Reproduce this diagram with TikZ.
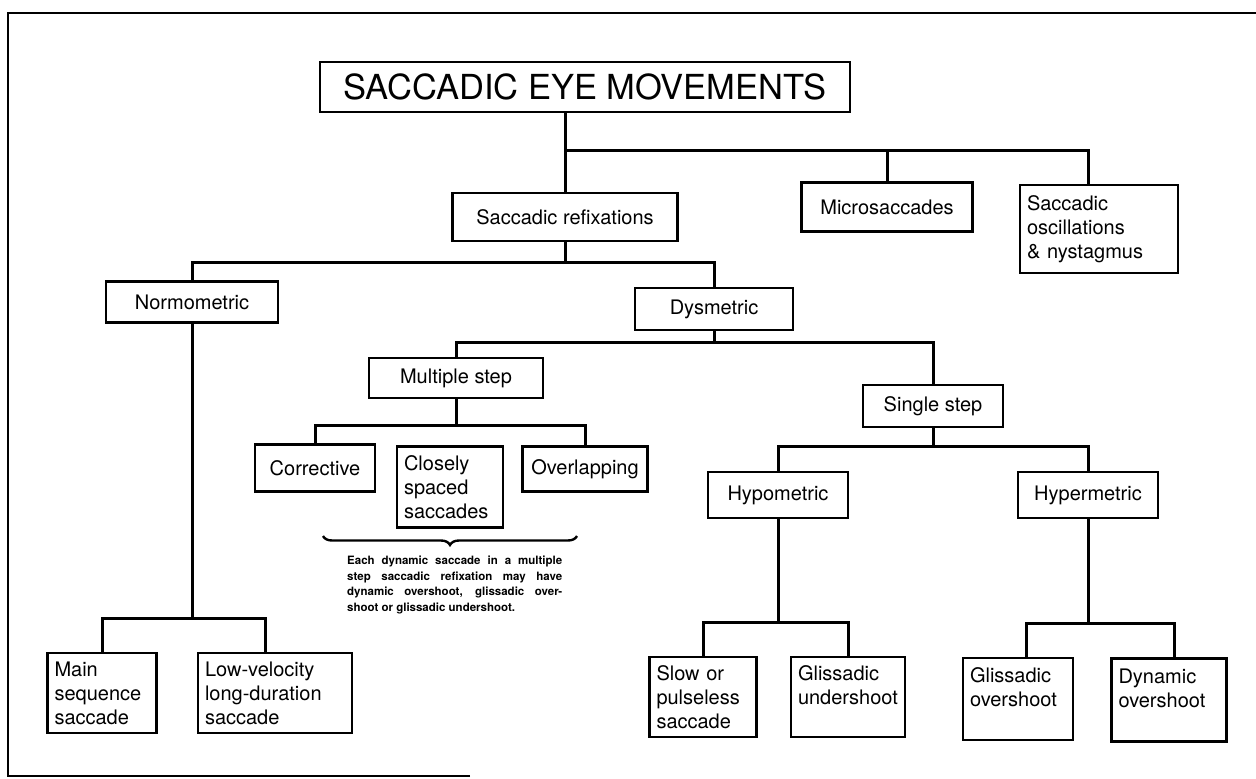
\documentclass[tikz,border=0pt]{standalone}
\usepackage{fontspec}
\setmainfont{TeX Gyre Heros}
\usetikzlibrary{decorations.pathreplacing}
\begin{document}
\begin{tikzpicture}[x=1pt,y=-1pt,
  conn/.style={line width=3pt},
  box/.style={draw, line width=2.6pt, inner sep=0pt, font=\fontsize{20}{24}\selectfont, align=center},
  lbox/.style={draw, line width=2.6pt, inner xsep=7pt, inner ysep=0pt, font=\fontsize{20}{24}\selectfont, align=left},
  frame/.style={line width=2.4pt}]
\useasboundingbox (0,0) rectangle (1256,779);
\fill[white] (0,0) rectangle (1256,779);
% frame
\draw[frame] (470,776) -- (8,776) -- (8,13) -- (1256,13);
% bar levels
\coordinate (b1) at (0,150);
\coordinate (b2) at (0,262);
\coordinate (b3) at (0,342);
\coordinate (b4) at (0,425);
\coordinate (b5) at (0,618);
\coordinate (b6) at (0,446);
\coordinate (b7) at (0,622);
\coordinate (b8) at (0,623);
% nodes
\node[box, minimum width=530, minimum height=50, font=\fontsize{34.5}{38}\selectfont] (title) at (585,87) {SACCADIC EYE MOVEMENTS};
\node[box, minimum width=225, minimum height=48] (sr) at (565,217) {Saccadic refixations};
\node[box, minimum width=171, minimum height=49] (micro) at (887,207) {Microsaccades};
\node[lbox, text width=144, minimum height=88] (osc) at (1099,229) {Saccadic\\oscillations\\\& nystagmus};
\node[box, minimum width=172, minimum height=41] (normo) at (192,302) {Normometric};
\node[box, minimum width=158, minimum height=42] (dys) at (714,309) {Dysmetric};
\node[box, minimum width=174, minimum height=40] (ms) at (456,378) {Multiple step};
\node[box, minimum width=140, minimum height=42] (ss) at (933,406) {Single step};
\node[box, minimum width=120, minimum height=47] (corr) at (315,468) {Corrective};
\node[lbox, text width=92, minimum height=81] (close) at (450,487) {Closely\\spaced\\saccades};
\node[box, minimum width=125, minimum height=45] (over) at (585,469) {Overlapping};
\node[box, minimum width=140, minimum height=46] (hypo) at (778,495) {Hypometric};
\node[box, minimum width=140, minimum height=46] (hyper) at (1088,495) {Hypermetric};
\node[lbox, text width=95, minimum height=80] (main) at (102,693) {Main\\sequence\\saccade};
\node[lbox, text width=140, minimum height=80] (lowv) at (275,693) {Low-velocity\\long-duration\\saccade};
\node[lbox, text width=93, minimum height=80] (slow) at (703,697) {Slow or\\pulseless\\saccade};
\node[lbox, text width=100, minimum height=80] (gund) at (848,697) {Glissadic\\undershoot\\\mbox{}};
\node[lbox, text width=96, minimum height=82] (gover) at (1018,699) {Glissadic\\overshoot\\\mbox{}};
\node[lbox, text width=101, minimum height=83] (dyn) at (1169,700) {Dynamic\\overshoot\\\mbox{}};
\node[anchor=north west, inner sep=0pt, font=\fontsize{11.5}{15.5}\selectfont\bfseries, align=left] (note) at (347,556)
  {\makebox[215pt][s]{Each dynamic saccade in a multiple}\\
   \makebox[215pt][s]{step saccadic refixation may have}\\
   \makebox[215pt][s]{dynamic overshoot, glissadic over-}\\
   shoot or glissadic undershoot.};
% drop points off centre
\coordinate (oscin) at ([xshift=-11pt]osc.north);
\coordinate (lowvin) at ([xshift=-10pt]lowv.north);
\coordinate (goverin) at ([xshift=8pt]gover.north);
\coordinate (dynin) at ([xshift=5pt]dyn.north);
% connectors
\draw[conn] (title.south -| sr.north) -- (sr.north);
\draw[conn] (sr.north |- b1) -- (oscin |- b1) -- (oscin);
\draw[conn] (micro.north) -- (micro.north |- b1);
\draw[conn] (sr.south) -- (sr.south |- b2);
\draw[conn] (normo.north) -- (normo.north |- b2) -- (dys.north |- b2) -- (dys.north);
\draw[conn] (normo.south) -- (normo.south |- b5);
\draw[conn] (main.north) -- (main.north |- b5) -- (lowvin |- b5) -- (lowvin);
\draw[conn] (dys.south) -- (dys.south |- b3);
\draw[conn] (ms.north) -- (ms.north |- b3) -- (ss.north |- b3) -- (ss.north);
\draw[conn] (ms.south) -- (ms.south |- b4);
\draw[conn] (corr.north) -- (corr.north |- b4) -- (over.north |- b4) -- (over.north);
\draw[conn] (ss.south) -- (ss.south |- b6);
\draw[conn] (hypo.north) -- (hypo.north |- b6) -- (hyper.north |- b6) -- (hyper.north);
\draw[conn] (hypo.south) -- (hypo.south |- b7);
\draw[conn] (slow.north) -- (slow.north |- b7) -- (gund.north |- b7) -- (gund.north);
\draw[conn] (hyper.south) -- (hyper.south |- b8);
\draw[conn] (goverin) -- (goverin |- b8) -- (dynin |- b8) -- (dynin);
% brace
\draw[line width=2.4pt, decorate, decoration={brace, mirror, amplitude=9pt}] (323,536) -- (577,536);
\end{tikzpicture}
\end{document}
